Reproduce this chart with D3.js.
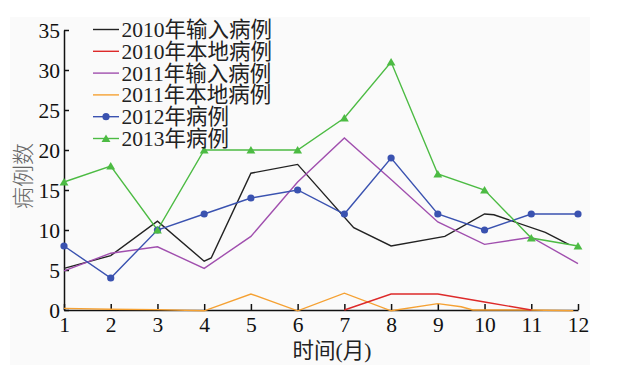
<!DOCTYPE html>
<html><head><meta charset="utf-8">
<script src="https://cdn.jsdelivr.net/npm/d3@7"></script>
<style>body{margin:0;background:#fff}svg{display:block}</style>
</head><body><svg id="c" width="621" height="382"></svg>
<script>
const months = [1,2,3,4,5,6,7,8,9,10,11,12];
const yTicks = [0,5,10,15,20,25,30,35];
const seriesNames = ["2010年输入病例","2010年本地病例","2011年输入病例","2011年本地病例","2012年病例","2013年病例"];
// 2010 imported: vertices (some between months)
const x2010in = [1,2,3,4,4.15,5,6,7.2,8,9.15,10,10.2,11.3,11.8];
const y2010in = [5.2,6.8,11.1,6.1,6.5,17.1,18.2,10.3,8.0,9.2,12.0,11.9,9.7,8.2];
const x2010local = [7,8,9,10,11];
const y2010local = [0,2,2,1,0];
const y2011in = [4.9,7.1,7.9,5.2,9.2,16.0,21.5,16.3,11.0,8.2,9.1,5.8];
const x2011local = [1,2,3,4,5,6,7,8,9,9.5,9.75,10,11,11.9];
const y2011local = [0.2,0.1,0.05,-0.1,2,-0.1,2.1,-0.1,0.8,0.4,0,0,0,-0.1];
const y2012 = [8,4,10,12,14,15,12,19,12,10,12,12];
const y2013 = [16,18,10,20,20,20,24,31,17,15,9,8];
const colors = ["#222222","#dd2a2a","#a04fae","#f5a133","#3a52b0","#4cbb43"];

const FS = 21.5;
const serif = "'Liberation Serif','Times New Roman','Noto Sans CJK SC',serif";

const svg = d3.select("#c");
svg.append("rect").attr("x",10).attr("y",17).attr("width",580).attr("height",348).attr("fill","#fafafa");

const x = d3.scaleLinear().domain([1,12]).range([64,578]);
const y = d3.scaleLinear().domain([0,35]).range([310,30]);

const zip = (xs,ys)=>xs.map((v,i)=>[v,ys[i]]);
const data = [
  zip(x2010in,y2010in),
  zip(x2010local,y2010local),
  zip(months,y2011in),
  zip(x2011local,y2011local),
  zip(months,y2012),
  zip(months,y2013)
];
const line = d3.line().x(d=>x(d[0])).y(d=>y(d[1]));

// axes
const xAxis = d3.axisBottom(x).tickValues(months).tickSizeInner(-6).tickSizeOuter(0).tickPadding(7);
const yAxis = d3.axisLeft(y).tickValues(yTicks).tickSizeInner(-5).tickSizeOuter(0).tickPadding(4);
const gx = svg.append("g").attr("transform","translate(0,310)").call(xAxis);
const gy = svg.append("g").attr("transform","translate(64,0)").call(yAxis);
[gx,gy].forEach(g=>{
  g.selectAll("path,line").attr("stroke","#111").attr("stroke-width",1.5);
  g.selectAll("text").attr("fill","#111").attr("font-family",serif).attr("font-size",FS);
});
gy.selectAll("text").attr("dy","0.35em");

// lines
const order = [0,2,4,5,3,1];
order.forEach(i=>{
  svg.append("path").attr("d",line(data[i])).attr("fill","none")
    .attr("stroke",colors[i]).attr("stroke-width",1.4).attr("stroke-linejoin","miter");
});
// markers
svg.selectAll("circle.m").data(data[4]).enter().append("circle")
  .attr("cx",d=>x(d[0])).attr("cy",d=>y(d[1])).attr("r",3.6).attr("fill",colors[4]);
const tri = d3.symbol().type(d3.symbolTriangle).size(34);
svg.selectAll("path.t").data(data[5]).enter().append("path")
  .attr("d",tri).attr("transform",d=>`translate(${x(d[0])},${y(d[1])+1})`).attr("fill",colors[5]);

// legend
const lg = svg.append("g");
seriesNames.forEach((name,i)=>{
  const yy = 29.5 + i*21.8;
  lg.append("line").attr("x1",93).attr("x2",119).attr("y1",yy).attr("y2",yy)
    .attr("stroke",colors[i]).attr("stroke-width",1.4);
  if(i===4) lg.append("circle").attr("cx",106).attr("cy",yy).attr("r",3.6).attr("fill",colors[i]);
  if(i===5) lg.append("path").attr("d",tri).attr("transform",`translate(106,${yy+1})`).attr("fill",colors[i]);
  lg.append("text").attr("x",121.5).attr("y",yy).attr("dy","0.35em")
    .attr("font-family",serif).attr("font-size",FS)
    .attr("fill","#222").text(name);
});

// axis titles
svg.append("text").attr("x",332).attr("y",358).attr("text-anchor","middle")
  .attr("font-family",serif).attr("font-size",FS).attr("fill","#222").text("时间(月)");
svg.append("text").attr("transform","translate(31,176) rotate(-90)").attr("text-anchor","middle")
  .attr("font-family","'Noto Sans CJK SC',sans-serif").attr("font-size",22).attr("font-weight",300).attr("fill","#666").text("病例数");
</script></body></html>
